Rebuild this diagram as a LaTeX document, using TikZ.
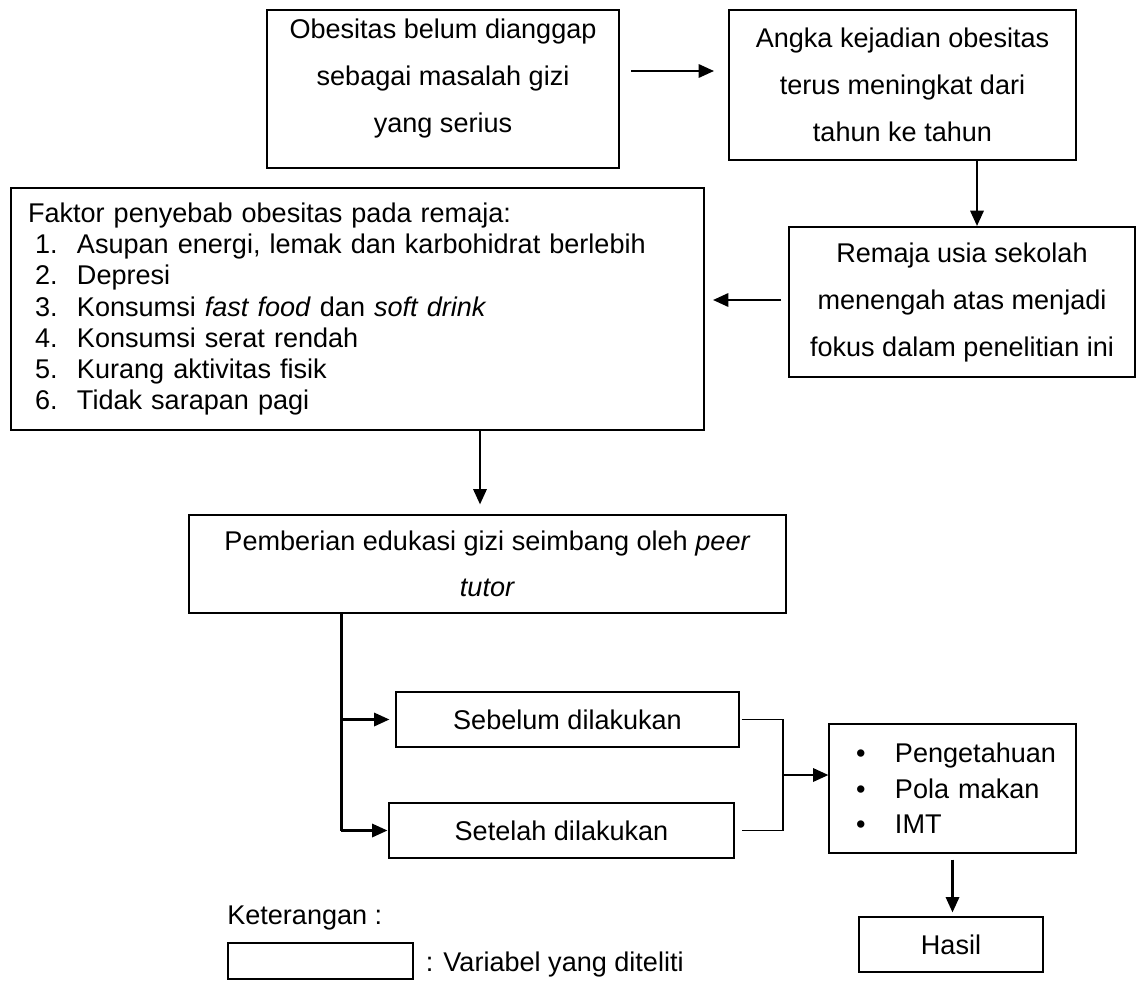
\documentclass[tikz,border=0pt]{standalone}
\usepackage{fontspec}
\setmainfont{Liberation Sans}
\usetikzlibrary{arrows.meta,calc}

\begin{document}
\begin{tikzpicture}[x=0.75pt,y=0.75pt,yscale=-1,xscale=1,
    font=\fontsize{20.3}{35.25}\selectfont,
    box/.style={draw,line width=0.9pt,inner sep=0pt,align=center},
    heavybox/.style={box,line width=1.5pt},
    arrow/.style={line width=1.7pt,-{Triangle[length=11.5pt,width=10pt]}},
    joinline/.style={line width=0.8pt}]
    \useasboundingbox (0,0) rectangle (1137,981);
    \node [heavybox,minimum width=264pt,minimum height=118.5pt] (obes) at (443,89) {};
    \node [align=center,inner sep=0pt] (obestxt) at (443,79) {Obesitas belum dianggap\\sebagai masalah gizi\\yang serius};
    \node [heavybox,minimum width=260.25pt,minimum height=112.5pt] (angka) at (902.5,85) {Angka kejadian obesitas\\terus meningkat dari\\tahun ke tahun};
    \node [heavybox,minimum width=259.5pt,minimum height=112.5pt] (remaja) at (962,302) {Remaja usia sekolah\\menengah atas menjadi\\fokus dalam penelitian ini};
    \node [heavybox,minimum width=519.75pt,minimum height=181.5pt,inner xsep=12.75pt,text width=494.25pt,align=left,font=\fontsize{20.3}{23.4}\selectfont] (faktor) at (357.5,309) {Faktor penyebab obesitas pada remaja:\\
        \hspace*{5.25pt}\makebox[31.5pt][l]{1.}Asupan energi, lemak dan karbohidrat berlebih\\
        \hspace*{5.25pt}\makebox[31.5pt][l]{2.}Depresi\\
        \hspace*{5.25pt}\makebox[31.5pt][l]{3.}Konsumsi \textit{fast food} dan \textit{soft drink}\\
        \hspace*{5.25pt}\makebox[31.5pt][l]{4.}Konsumsi serat rendah\\
        \hspace*{5.25pt}\makebox[31.5pt][l]{5.}Kurang aktivitas fisik\\
        \hspace*{5.25pt}\makebox[31.5pt][l]{6.}Tidak sarapan pagi};
    \node [box,minimum width=447.75pt,minimum height=73.5pt,font=\fontsize{20.3}{34.5}\selectfont] (edukasi) at (487.5,564) {Pemberian edukasi gizi seimbang oleh \textit{peer}\\\textit{tutor}};
    \node [box,minimum width=257.25pt,minimum height=41.25pt] (sebelum) at (567.5,719.5) {Sebelum dilakukan};
    \node [box,minimum width=258.75pt,minimum height=41.25pt] (setelah) at (561.5,830.5) {Setelah dilakukan};
    \node [box,minimum width=185.25pt,minimum height=96.75pt,inner xsep=20.25pt,text width=144.75pt,align=left,font=\fontsize{20.3}{26.6}\selectfont] (variabel) at (952.5,788.5) {\makebox[29.25pt][l]{•}Pengetahuan\\\makebox[29.25pt][l]{•}Pola makan\\\makebox[29.25pt][l]{•}IMT};
    \node [box,minimum width=138pt,minimum height=41.25pt] (hasil) at (951,944.5) {Hasil};
    \node [anchor=west,inner sep=0pt] (ket) at (227,918) {Keterangan :};
    \node [box,minimum width=138.75pt,minimum height=27pt] (legendbox) at (320.5,961) {};
    \node [anchor=west,inner sep=0pt] (legendtxt) at ($(legendbox.east)+(12,3)$) {: Variabel yang diteliti};
    \coordinate (ab) at ($(obes.east)+(0,-18)$);
    \draw [arrow,shorten <=8.25pt,shorten >=10.5pt] (ab) -- (ab -| angka.west);
    \draw [arrow] ($(angka.south)+(74.5,0)$) -- ($(remaja.north)+(15,0)$);
    \coordinate (cd) at ($(remaja.west)+(0,-2)$);
    \draw [arrow,shorten <=5.25pt,shorten >=6pt] (cd) -- (cd -| faktor.east);
    \coordinate (de) at ($(edukasi.north)+(-7.5,0)$);
    \draw [arrow,shorten >=7.5pt] (de |- faktor.south) -- (de);
    \coordinate (trunk) at ($(edukasi.south west)+(153,0)$);
    \draw [line width=1.7pt] (trunk) -- (trunk |- setelah.west);
    \draw [arrow,shorten >=4.5pt] (trunk |- sebelum.west) -- (sebelum.west);
    \draw [arrow,shorten >=0.75pt] (trunk |- setelah.west) -- (setelah.west);
    \coordinate (merge) at (783,775);
    \draw [joinline,shorten <=1.5pt,shorten >=5.25pt] (sebelum.east) -| (merge) |- (setelah.east);
    \draw [arrow] (merge) -- (merge -| variabel.west);
    \draw [arrow,shorten <=4.5pt,shorten >=3pt] (variabel.south) -- (variabel.south |- hasil.north);
\end{tikzpicture}
\end{document}
